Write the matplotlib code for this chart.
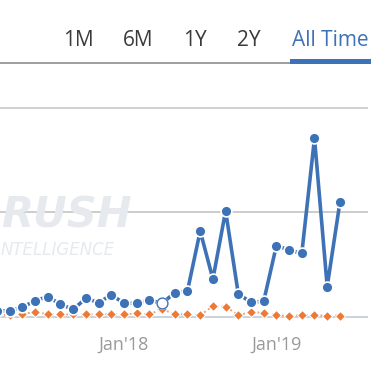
import matplotlib.pyplot as plt
from matplotlib.lines import Line2D
from matplotlib.transforms import blended_transform_factory

plt.rcParams['font.family'] = ['Open Sans', 'DejaVu Sans']

# monthly data, Mar'17 .. Jun'19
months = ["Mar'17", "Apr'17", "May'17", "Jun'17", "Jul'17", "Aug'17", "Sep'17",
          "Oct'17", "Nov'17", "Dec'17", "Jan'18", "Feb'18", "Mar'18", "Apr'18",
          "May'18", "Jun'18", "Jul'18", "Aug'18", "Sep'18", "Oct'18", "Nov'18",
          "Dec'18", "Jan'19", "Feb'19", "Mar'19", "Apr'19", "May'19", "Jun'19"]
blue_vals = [2.6, 2.8, 4.4, 7.6, 9.5, 5.8, 3.4, 8.7, 6.6, 10.4, 6.3, 6.3, 7.9, 6.3,
             11.4, 12.3, 40.9, 17.9, 50.5, 10.8, 6.8, 7.3, 33.9, 31.8, 30.2, 85.3,
             14.3, 54.6]
orange_vals = [1.1, 0.5, 1.0, 2.3, 1.0, 1.0, 1.0, 1.0, 1.0, 1.0, 1.0, 1.5, 1.0, 3.6,
               1.0, 1.0, 0.6, 5.0, 4.7, 0.7, 2.0, 1.8, 0.7, 0.2, 0.6, 0.6, 0.4, 0.4]
grid_vals = [0, 50, 100]
tick_labels = ["Jan'18", "Jan'19"]
tabs = ['1M', '6M', '1Y', '2Y', 'All Time']
tab_x = [78, 138, 195, 249, 330]

blue = '#3e72b6'
orange = '#ec7a36'

fig = plt.figure(figsize=(3.8, 3.8), dpi=100)
ax = fig.add_axes([0, 0, 1, 1])
ax.axis('off')

# one month = 12.7 px, first month sits just left of the edge
px_month = 12.7
x0 = -3
ax.set_xlim((0 - x0) / px_month, (380 - x0) / px_month)
ax.set_ylim((316.5 - 380) / 2.09, 316.5 / 2.09)

xs = list(range(len(months)))

for g, c in zip(grid_vals, ['#c9d3df', '#cccccc', '#d0d0d0']):
    ax.axhline(g, xmin=0, xmax=367 / 380, color=c, lw=1.4, zorder=1)

ax.plot(xs, orange_vals, color='#f0a070', lw=1.4, ls=(0, (1, 1.5)), zorder=2)
ax.plot(xs, orange_vals, ls='none', marker='D', ms=5.2, color=orange,
        mec='white', mew=0.8, zorder=3)

ax.plot(xs, blue_vals, color=blue, lw=2.6, marker='o', ms=7.8,
        mec='white', mew=1.2, zorder=4, solid_capstyle='round')
# highlighted (hovered) point
hi = months.index("Apr'18")
ax.plot(xs[hi], blue_vals[hi], marker='o', ms=7.8, mfc='white', mec=blue,
        mew=1.0, zorder=5)

# watermark (only the visible part)
fig.text(1 / 380, 1 - 216 / 380, 'RUSH', ha='left', va='center', fontsize=30,
         family='DejaVu Sans', fontweight='bold', fontstyle='italic',
         color='#e6eaef', zorder=0)
fig.text(1 / 380, 1 - 250 / 380, 'NTELLIGENCE', ha='left', va='center',
         fontsize=12, family='DejaVu Sans', fontstyle='italic',
         color='#e6eaef', zorder=0)

# x tick labels
trans = blended_transform_factory(ax.transData, ax.transAxes)
for lab in tick_labels:
    ax.text(months.index(lab), 1 - 345 / 380, lab, transform=trans, ha='center',
            va='center', fontsize=13, color='#9a9a9a')

# period tabs
for t, x in zip(tabs, tab_x):
    fig.text(x / 380, 1 - 40 / 380, t, ha='center', va='center', fontsize=15,
             color=blue if t == 'All Time' else '#3a3a3a')
fig.add_artist(Line2D([0, 292 / 380], [1 - 62.5 / 380] * 2, color='#8c8c8c', lw=1.2))
fig.add_artist(Line2D([292 / 380, 368 / 380], [1 - 60.5 / 380] * 2, color=blue, lw=3.6))

fig.savefig('out.png', dpi=100)
